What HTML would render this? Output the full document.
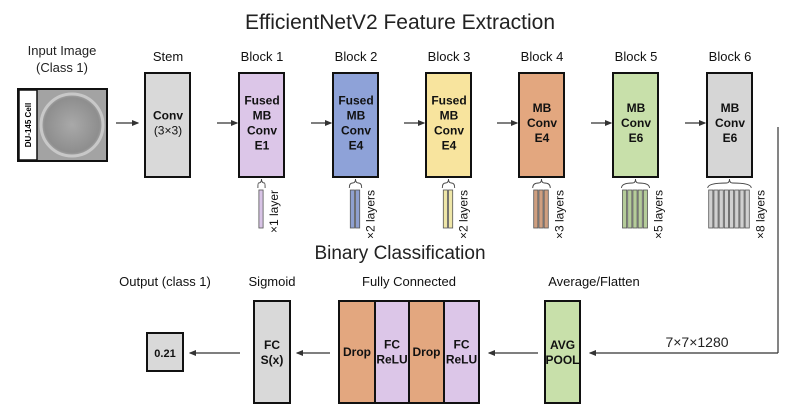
<!DOCTYPE html>
<html><head><meta charset="utf-8"><style>
html,body{margin:0;padding:0;background:#fff;}
svg{display:block;font-family:"Liberation Sans",Arial,sans-serif;}
</style></head><body>
<svg id="d" width="800" height="420" viewBox="0 0 800 420">
<defs><marker id="ah" markerWidth="6" markerHeight="6" refX="5" refY="3" orient="auto"><path d="M0,0.5 L6,3 L0,5.5 z" fill="#333"/></marker>
<radialGradient id="cell" cx="50%" cy="50%" r="55%"><stop offset="0" stop-color="#a9a9a9"/><stop offset="0.8" stop-color="#8e8e8e"/><stop offset="1" stop-color="#bdbdbd"/></radialGradient></defs>
<text x="400" y="29" font-size="21" text-anchor="middle" fill="#222">EfficientNetV2 Feature Extraction</text>
<text x="400" y="259" font-size="19" text-anchor="middle" fill="#222">Binary Classification</text>
<g>
<text x="62" y="55" font-size="13" text-anchor="middle" fill="#222">Input Image</text>
<text x="62" y="72" font-size="13" text-anchor="middle" fill="#222">(Class 1)</text>
<rect x="18" y="89" width="89" height="72" fill="#a3a3a3" stroke="#111" stroke-width="2"/>
<circle cx="72" cy="125" r="31" fill="url(#cell)" stroke="#c8c8c8" stroke-width="3"/>
<rect x="19" y="90" width="18" height="70" fill="#fff" stroke="#111" stroke-width="1.5"/>
<text transform="translate(31,125) rotate(-90)" font-size="8" font-weight="bold" text-anchor="middle">DU-145 Cell</text>
</g>
<g id="blocks"></g>
<g id="bottom"></g>
<polyline points="778,127 778,353" fill="none" stroke="#333" stroke-width="1.2"/>
<text x="697" y="347" font-size="14" text-anchor="middle" fill="#222">7×7×1280</text>
</svg>
<script>
const NS="http://www.w3.org/2000/svg";
function mk(p,t,a){const e=document.createElementNS(NS,t);for(const k in a)e.setAttribute(k,a[k]);p.appendChild(e);return e;}
function txt(p,x,y,s,size,bold,anchor){const e=mk(p,'text',{x:x,y:y,'font-size':size,'text-anchor':anchor||'middle',fill:'#111','font-weight':bold?'bold':'normal'});e.textContent=s;return e;}
const blockNames=["Stem","Block 1","Block 2","Block 3","Block 4","Block 5","Block 6"];
const blockLines=[["Conv","(3×3)"],["Fused","MB","Conv","E1"],["Fused","MB","Conv","E4"],["Fused","MB","Conv","E4"],["MB","Conv","E4"],["MB","Conv","E6"],["MB","Conv","E6"]];
const blockColors=["#d9d9d9","#dcc6e8","#8ea2d8","#f8e49e","#e3a77f","#c8e0aa","#d6d6d6"];
const barColors=[null,"#d8c4e6","#8fa0d0","#eee6a8","#cf9f80","#b5cc9a","#d0d0d0"];
const layerCounts=[0,1,2,2,3,5,8];
const blockX=[145,239,333,426,519,613,707];
const g=document.getElementById('blocks');
blockNames.forEach((n,i)=>{
 const x=blockX[i];
 const grp=mk(g,'g',{});
 
 
 txt(grp,x+23,61,n,13,false);
 mk(grp,'rect',{x:x,y:73,width:45,height:104,fill:blockColors[i],stroke:'#111','stroke-width':2});
 const L=blockLines[i];const sy=123-(L.length-1)*7.5+4;
 L.forEach((s,j)=>{const t=txt(grp,x+23,sy+j*15,s,12,true);if(i==0&&j==1)t.setAttribute('font-weight','normal');});
 if(i>0){
  const arr=mk(g,'line',{x1:x-22,y1:123,x2:x-2,y2:123,stroke:'#333','stroke-width':1.2,'marker-end':'url(#ah)'});
  
  
  const c=layerCounts[i],bw=5.2,tw=c*bw,bx=x+22.5-tw/2;
  for(let k=0;k<c;k++){mk(grp,'rect',{x:bx+k*bw,y:190,width:bw-1,height:38,fill:barColors[i],stroke:'#555','stroke-width':0.8});}
  const l=bx-1,r=bx+tw+1,m=(l+r)/2;
  mk(grp,'path',{d:`M${l},188 Q${l},183 ${m-3},183 Q${m},183 ${m},179 Q${m},183 ${m+3},183 Q${r},183 ${r},188`,fill:'none',stroke:'#444','stroke-width':0.9});
  const t=txt(grp,0,0,'×'+c+(c==1?' layer':' layers'),12,false,'end');
  t.setAttribute('transform',`translate(${r+13},190) rotate(-90)`);
 } else {
  const arr=mk(g,'line',{x1:116,y1:123,x2:138,y2:123,stroke:'#333','stroke-width':1.2,'marker-end':'url(#ah)'});
  
  
 }
});
const b=document.getElementById('bottom');
function lbl(x,s){txt(b,x,286,s,13,false);}
lbl(165,"Output (class 1)");lbl(272,"Sigmoid");lbl(409,"Fully Connected");lbl(594,"Average/Flatten");
const out=mk(b,'g',{});
mk(out,'rect',{x:147,y:333,width:36,height:38,fill:'#d9d9d9',stroke:'#111','stroke-width':2});txt(out,165,357,'0.21',11,true);
const sg=mk(b,'g',{});
mk(sg,'rect',{x:254,y:301,width:36,height:102,fill:'#d9d9d9',stroke:'#111','stroke-width':2});txt(sg,272,349,'FC',12,true);txt(sg,272,364,'S(x)',12,true);
const fcX=[339,375,409,444];const fcW=[36,34,35,35];const fcC=["#e3a77f","#dcc6e8","#e3a77f","#dcc6e8"];const fcT=[["Drop"],["FC","ReLU"],["Drop"],["FC","ReLU"]];
const fc=mk(b,'g',{});
fcX.forEach((x,i)=>{mk(fc,'rect',{x:x,y:301,width:fcW[i],height:102,fill:fcC[i],stroke:'#111','stroke-width':2});
 const T=fcT[i];T.forEach((s,j)=>txt(fc,x+fcW[i]/2,356-(T.length-1)*7.5+j*15,s,12,true));});
const ap=mk(b,'g',{});
mk(ap,'rect',{x:545,y:301,width:35,height:102,fill:'#c8e0aa',stroke:'#111','stroke-width':2});txt(ap,562.5,349,'AVG',12,true);txt(ap,562.5,364,'POOL',12,true);
[[240,190],[330,297],[538,489],[778,590]].forEach((a,i)=>{const l=mk(b,'line',{x1:a[0],y1:353,x2:a[1],y2:353,stroke:'#333','stroke-width':1.2,'marker-end':'url(#ah)'});
 
 });
</script>
</body></html>
